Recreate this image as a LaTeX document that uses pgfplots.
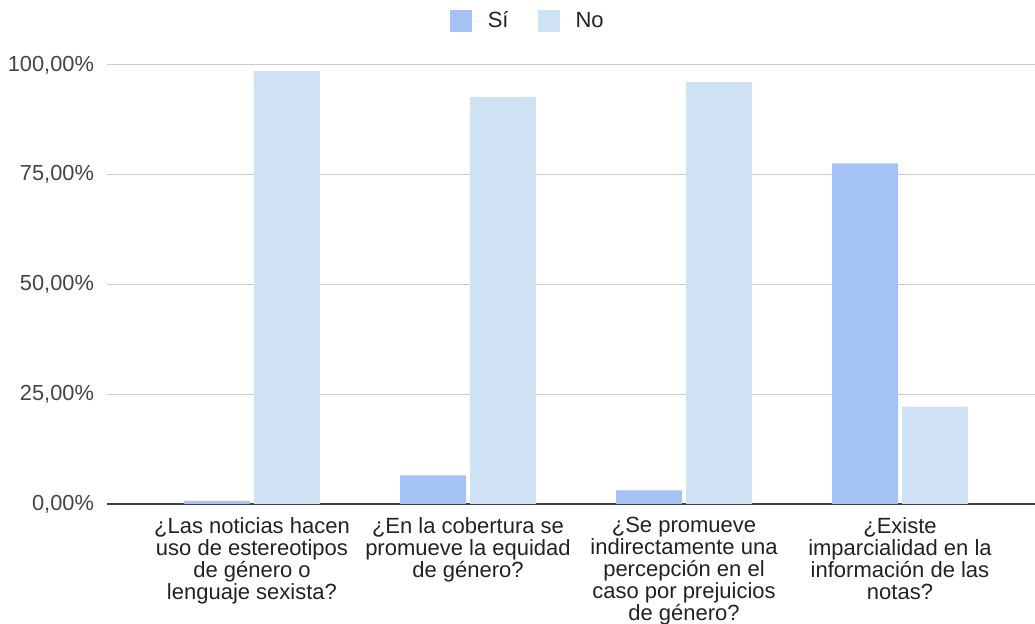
\documentclass[border=0pt]{standalone}
\usepackage{pgfplots}
\pgfplotsset{compat=1.18}
\usepackage{fontspec}
\setmainfont{Liberation Sans}
\definecolor{si}{HTML}{A4C2F4}
\definecolor{no}{HTML}{CFE2F3}
\definecolor{gridc}{HTML}{CCCCCC}
\definecolor{txt}{HTML}{222222}
\definecolor{ticktxt}{HTML}{444444}

\begin{document}
\begin{tikzpicture}
\begin{axis}[
  name=ax,
  scale only axis,
  width=464pt, height=219.5pt,
  ybar=2pt, bar width=33pt,
  xmin=-0.6713, xmax=3.625,
  ymin=0, ymax=100,
  axis line style={draw=none},
  major tick length=0pt,
  ymajorgrids,
  grid style={gridc, line width=0.5pt},
  ytick={0,25,50,75,100},
  yticklabels={{0,00\%},{25,00\%},{50,00\%},{75,00\%},{100,00\%}},
  yticklabel style={font=\fontsize{10.9}{12}\selectfont, text=ticktxt, xshift=-3pt},
  extra y ticks={0},
  extra y tick labels={},
  extra y tick style={grid style={draw=black!75, line width=0.8pt}},
  xtick={0,1,2,3},
  xticklabels={
    {¿Las noticias hacen\\uso de estereotipos\\de género o\\lenguaje sexista?},
    {¿En la cobertura se\\promueve la equidad\\de género?},
    {¿Se promueve\\indirectamente una\\percepción en el\\caso por prejuicios\\de género?},
    {¿Existe\\imparcialidad en la\\información de las\\notas?}},
  xticklabel style={align=center, font=\fontsize{11}{11}\selectfont, text=txt, yshift=-3.2pt},
  legend style={at={(0.4545,1.1)}, anchor=center, draw=none, legend columns=2,
    font=\fontsize{11}{12}\selectfont, text=txt,
    /tikz/every even column/.append style={column sep=12.5pt}},
  legend image code/.code={\fill[#1] (0pt,-5.5pt) rectangle (11pt,5.5pt); \path (11pt,0pt) -- (17pt,0pt);},
]
\addplot[fill=si, draw=none] coordinates {(0,0.7) (1,6.5) (2,3.1) (3,77.6)};
\addplot[fill=no, draw=none] coordinates {(0,98.6) (1,92.7) (2,96.1) (3,22.2)};
\legend{Sí, No}
\end{axis}
\pgfresetboundingbox
\path ([shift={(-53.5pt,-60pt)}]ax.south west) rectangle ([shift={(0pt,252pt)}]ax.south east);
\end{tikzpicture}
\end{document}
